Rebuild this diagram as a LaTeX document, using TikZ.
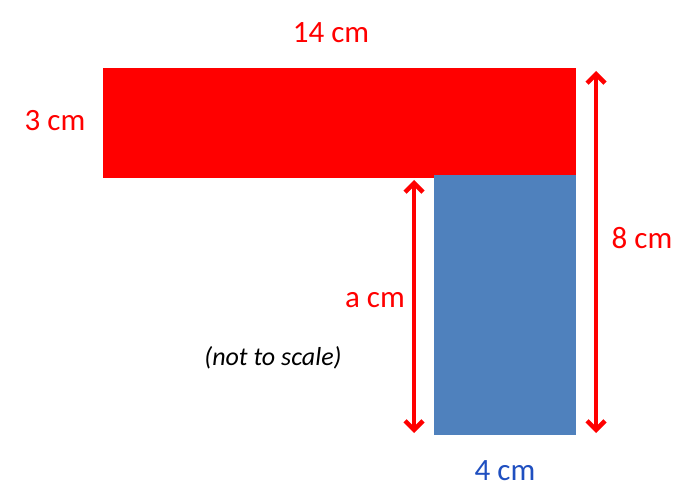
\documentclass[tikz,border=0pt]{standalone}
\usepackage{fontspec}
\setmainfont{Carlito}
\usetikzlibrary{arrows.meta}
\definecolor{boxred}{HTML}{FF0000}
\definecolor{boxblue}{HTML}{4F81BD}
\definecolor{lblblue}{HTML}{1F4FC0}
\tikzset{
  dimarrow/.style={draw=boxred, line width=4.5pt, {Straight Barb[length=9pt,width=18pt,line width=4.5pt]}-{Straight Barb[length=9pt,width=18pt,line width=4.5pt]}},
  lbl/.style={font=\fontsize{31}{36}\selectfont, text=boxred, inner sep=0pt},
}
\begin{document}
\begin{tikzpicture}[x=1pt,y=-1pt]
\useasboundingbox (0,0) rectangle (697,500);
\fill[boxred] (103,68) rectangle (576,178);
\fill[boxblue] (434,175) rectangle (576,435);
\coordinate (rt) at (596,71);
\coordinate (rb) at (596,433);
\coordinate (lt) at (414,180);
\coordinate (lb) at (414,433);
\draw[dimarrow] (rt) -- (rb);
\draw[dimarrow] (lt) -- (lb);
\node[lbl] (w) at (331,33) {14 cm};
\node[lbl] (h) at (55,121) {3 cm};
\node[lbl] (e) at (642,238) {8 cm};
\node[lbl] (a) at (375,300) {a cm};
\node[lbl, text=lblblue] (f) at (505,471) {4 cm};
\node[font=\fontsize{26}{30}\selectfont\itshape, inner sep=0pt] (n) at (273,358) {(not to scale)};
\end{tikzpicture}
\end{document}
